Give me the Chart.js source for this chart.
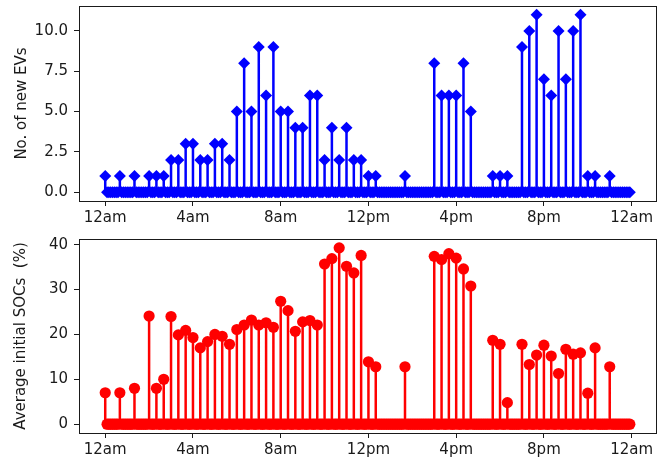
<!DOCTYPE html>
<html>
<head>
<meta charset="utf-8">
<script src="https://cdn.jsdelivr.net/npm/chart.js@4"></script>
<style>
  html, body { margin: 0; padding: 0; background: #fff; }
  #wrap { position: relative; width: 668px; height: 464px; }
  canvas { position: absolute; left: 0; }
</style>
</head>
<body>
<div id="wrap">
  <canvas id="evChart" width="668" height="230" style="top:0"></canvas>
  <canvas id="socChart" width="668" height="234" style="top:230px"></canvas>
</div>
<script>
  "use strict";

  // minutes after midnight where arrivals happened (everything else in the day is 0)
  const ARRIVAL_MIN = [
    0, 40, 80, 120, 140, 160, 180, 200, 220, 240, 260, 280, 300, 320, 340,
    360, 380, 400, 420, 440, 460, 480, 500, 520, 540, 560, 580, 600, 620, 640,
    660, 680, 700, 720, 740, 820, 900, 920, 940, 960, 980, 1000, 1060, 1080, 1100,
    1140, 1160, 1180, 1200, 1220, 1240, 1260, 1280, 1300, 1320, 1340, 1380
  ];
  const NEW_EVS = [
    1, 1, 1, 1, 1, 1, 2, 2, 3, 3, 2, 2, 3, 3, 2,
    5, 8, 5, 9, 6, 9, 5, 5, 4, 4, 6, 6, 2, 4, 2,
    4, 2, 2, 1, 1, 1, 8, 6, 6, 6, 8, 5, 1, 1, 1,
    9, 10, 11, 7, 6, 10, 7, 10, 11, 1, 1, 1
  ];
  const AVG_SOC = [
    7, 7, 8, 24.1, 8, 10, 24, 19.9, 20.9, 19.3, 17.0, 18.4, 20.0, 19.6, 17.8,
    21.1, 22.1, 23.2, 22.1, 22.6, 21.6, 27.4, 25.3, 20.7, 22.8, 23.1, 22.1, 35.7, 36.9, 39.3,
    35.2, 33.7, 37.6, 13.9, 12.8, 12.8, 37.4, 36.7, 38.0, 37.0, 34.6, 30.8, 18.7, 17.8, 4.8,
    17.8, 13.3, 15.4, 17.6, 15.2, 11.3, 16.7, 15.6, 15.9, 6.9, 17.0, 12.8
  ];
  const SLOT_MINUTES = 5;
  const DAY_MINUTES = 1440;

  const HOUR_TICKS = [0, 4, 8, 12, 16, 20, 24];
  const HOUR_LABELS = ["12am", "4am", "8am", "12pm", "4pm", "8pm", "12am"];
  const EV_TICKS = [0, 2.5, 5, 7.5, 10];
  const SOC_TICKS = [0, 10, 20, 30, 40];

  const FONT = { family: "'DejaVu Sans', sans-serif", size: 15 };
  const INK = "#1a1a1a";

  Chart.defaults.font.family = FONT.family;
  Chart.defaults.font.size = FONT.size;
  Chart.defaults.color = INK;

  // one point per 5-minute slot, zero unless an arrival fell in it
  function daySeries(values) {
    const bySlot = new Map(ARRIVAL_MIN.map((m, i) => [m, values[i]]));
    const pts = [];
    for (let m = 0; m < DAY_MINUTES; m += SLOT_MINUTES) {
      pts.push({ x: m / 60, y: bySlot.get(m) || 0 });
    }
    return pts;
  }

  // vertical stem segments, broken by nulls
  function stemSeries(values) {
    const pts = [];
    ARRIVAL_MIN.forEach((m, i) => {
      pts.push({ x: m / 60, y: 0 }, { x: m / 60, y: values[i] }, { x: m / 60, y: null });
    });
    return pts;
  }

  function noPad(s) {
    s.paddingTop = 0;
    s.paddingBottom = 0;
    s.paddingLeft = 0;
    s.paddingRight = 0;
  }

  function frameAxis(axis, position) {
    return {
      axis,
      position,
      display: true,
      ticks: { display: false },
      grid: { display: false },
      border: { display: true, color: INK, width: 1 },
      afterFit: (s) => {
        if (axis === "x") s.height = 0;
        else s.width = 0;
        noPad(s);
      },
    };
  }

  function makeStemChart(id, o) {
    const last = (DAY_MINUTES - SLOT_MINUTES) / 60;
    return new Chart(document.getElementById(id), {
      type: "scatter",
      data: {
        datasets: [
          {
            data: daySeries(o.values),
            showLine: false,
            pointStyle: o.pointStyle,
            pointRadius: o.radius,
            pointBackgroundColor: o.color,
            pointBorderWidth: 0,
          },
          {
            data: stemSeries(o.values),
            showLine: true,
            spanGaps: false,
            borderColor: o.color,
            borderWidth: 2.5,
            pointRadius: 0,
          },
          {
            data: [{ x: 0, y: 0 }, { x: last, y: 0 }],
            showLine: true,
            borderColor: o.color,
            borderWidth: 2.5,
            pointRadius: 0,
          },
        ],
      },
      options: {
        responsive: false,
        animation: false,
        devicePixelRatio: 1,
        layout: { padding: { top: o.padTop, right: 12, left: 0, bottom: 0 } },
        plugins: { legend: { display: false }, tooltip: { enabled: false } },
        scales: {
          x: {
            type: "linear",
            position: "bottom",
            min: -1.196,
            max: 25.11,
            afterBuildTicks: (s) => { s.ticks = HOUR_TICKS.map((v) => ({ value: v })); },
            ticks: {
              callback: (v, i) => HOUR_LABELS[i],
              autoSkip: false,
              maxRotation: 0,
              padding: 3,
              color: INK,
            },
            grid: { drawOnChartArea: false, drawTicks: true, tickLength: 5, tickColor: INK },
            border: { display: true, color: INK, width: 1 },
            afterFit: (s) => { s.height = o.xAxisHeight; noPad(s); },
          },
          y: {
            type: "linear",
            position: "left",
            min: o.yMin,
            max: o.yMax,
            afterBuildTicks: (s) => { s.ticks = o.ticks.map((v) => ({ value: v })); },
            ticks: { callback: o.fmt, padding: 6, color: INK },
            grid: { drawOnChartArea: false, drawTicks: true, tickLength: 5, tickColor: INK },
            border: { display: true, color: INK, width: 1 },
            title: { display: true, text: o.title, color: INK, padding: { top: o.titlePad, bottom: 0 } },
            afterFit: (s) => { s.width = 79; noPad(s); },
          },
          xTop: frameAxis("x", "top"),
          yRight: frameAxis("y", "right"),
        },
      },
    });
  }

  makeStemChart("evChart", {
    values: NEW_EVS,
    color: "#0000ff",
    pointStyle: "rectRot",
    radius: 6,
    yMin: -0.55,
    yMax: 11.55,
    ticks: EV_TICKS,
    fmt: (v) => Number(v).toFixed(1),
    title: "No. of new EVs",
    titlePad: 13,
    padTop: 6,
    xAxisHeight: 29,
  });

  makeStemChart("socChart", {
    values: AVG_SOC,
    color: "#ff0000",
    pointStyle: "circle",
    radius: 5.6,
    yMin: -1.965,
    yMax: 41.27,
    ticks: SOC_TICKS,
    fmt: (v) => String(v),
    title: "Average initial SOCs  (%)",
    titlePad: 12,
    padTop: 9,
    xAxisHeight: 31,
  });
</script>
</body>
</html>
